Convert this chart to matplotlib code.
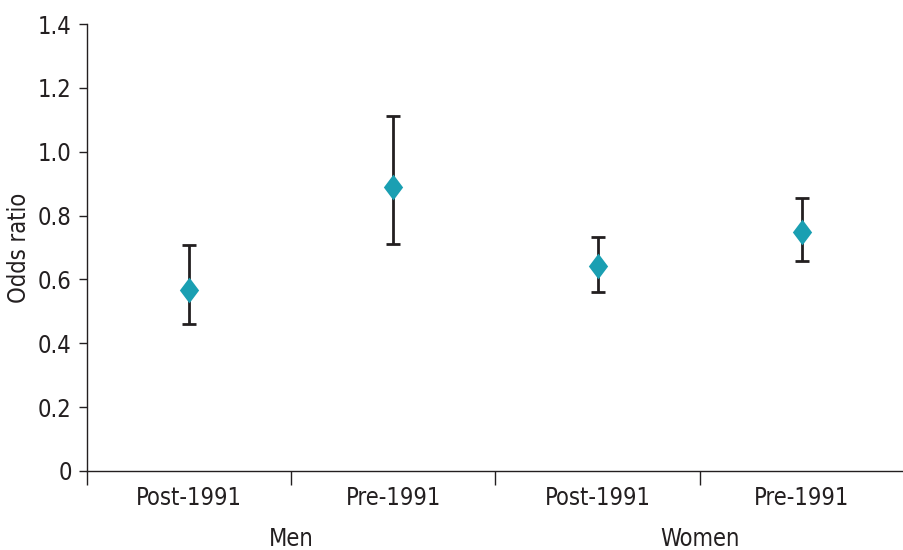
import numpy as np
import matplotlib.pyplot as plt
from matplotlib.path import Path

plt.rcParams['font.family'] = ['Liberation Sans Narrow', 'DejaVu Sans']
plt.rcParams['font.stretch'] = 'condensed'

# data
categories = ['Post-1991', 'Pre-1991', 'Post-1991', 'Pre-1991']
groups = ['Men', 'Women']
odds = [0.567, 0.889, 0.642, 0.748]
ci_low = [0.460, 0.711, 0.560, 0.658]
ci_high = [0.708, 1.112, 0.732, 0.855]

x = np.arange(len(categories))
odds = np.array(odds)
yerr = [odds - np.array(ci_low), np.array(ci_high) - odds]

fig = plt.figure(figsize=(9.04, 5.5), dpi=100)
ax = fig.add_axes([87 / 904, 79 / 550, 817 / 904, 447 / 550])

diamond = Path([(-0.75, 0), (0, 1), (0.75, 0), (0, -1), (-0.75, 0)],
               [Path.MOVETO, Path.LINETO, Path.LINETO, Path.LINETO, Path.CLOSEPOLY])

ax.errorbar(x, odds, yerr=yerr, fmt='none', ecolor='#231f20',
            elinewidth=2.0, capsize=5, capthick=2.0, zorder=2)
ax.plot(x, odds, linestyle='none', marker=diamond, markersize=18.5,
        color='#1a9fb2', markeredgewidth=0, zorder=3)

ax.set_xlim(-0.5, -0.5 + 817 / 207)
ax.set_ylim(0, 1.4)
ax.set_yticks(np.arange(0, 1.41, 0.2))
ax.set_yticklabels(['0'] + ['%.1f' % v for v in np.arange(0.2, 1.41, 0.2)])

# category labels at centres, tick marks at the boundaries
ax.set_xticks(x)
ax.set_xticklabels(categories)
ax.tick_params(axis='x', which='major', length=0, pad=11, labelsize=17,
               labelcolor='#231f20')
ax.set_xticks(np.arange(-0.5, 3.6, 1), minor=True)
ax.tick_params(axis='x', which='minor', length=10, width=1, color='#231f20')
ax.tick_params(axis='y', length=6, width=1, labelsize=17, color='#231f20',
               labelcolor='#231f20', pad=5)

for i, g in enumerate(groups):
    ax.text(0.5 + 2 * i, -0.152, g, ha='center', va='center', fontsize=17,
            transform=ax.get_xaxis_transform(), color='#231f20')

ax.set_ylabel('Odds ratio', fontsize=17, labelpad=5, color='#231f20')

for s in ['top', 'right']:
    ax.spines[s].set_visible(False)
for s in ['left', 'bottom']:
    ax.spines[s].set_linewidth(1)
    ax.spines[s].set_color('#231f20')

fig.savefig('out.png', dpi=100)
